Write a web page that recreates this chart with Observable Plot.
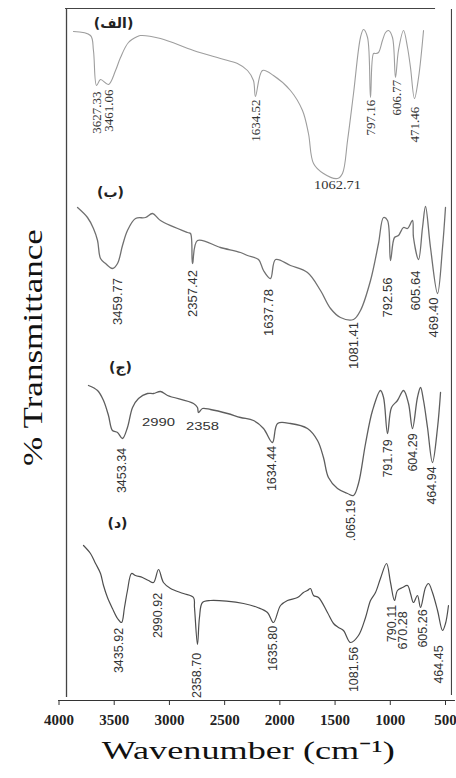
<!DOCTYPE html>
<html><head><meta charset="utf-8">
<script src="https://cdn.jsdelivr.net/npm/d3@7"></script>
<script src="https://cdn.jsdelivr.net/npm/@observablehq/plot@0.6"></script>
<style>body{margin:0;background:#fff;} #chart svg{display:block;background:#fff}</style>
</head><body><div id="chart"></div>
<script>
// X ticks (wavenumber, cm-1)
const wavenumberTicks = [4000, 3500, 3000, 2500, 2000, 1500, 1000, 500];

// Spectrum (الف) — wavenumber as placed against the shared axis, offset transmittance (a.u.)
const waveA = [3869,3715,3688,3660,3624,3552,3488,3443,3371,3289,3262,3081,2782,2538,2384,2293,2239,2221,2157,2058,1904,1795,1741,1695,1605,1478,1433,1387,1333,1270,1243,1206,1179,1152,1134,1107,1071,1043,1016,980,953,926,880,844,817,781,744,699];
const transA = [669,665,650,615,621,616,630,643,658,664,665,662,650,642,637,630,620,604,630,625,610,590,567,537,527,522,527,560,607,663,671,663,603,647,647,648,660,668,670,663,623,650,670,653,633,602,623,670];

// Spectrum (ب)
const waveB = [3832,3742,3688,3651,3624,3579,3516,3470,3425,3380,3307,3217,3153,3081,2836,2809,2791,2746,2538,2356,2293,2193,2148,2085,2039,1904,1750,1632,1541,1451,1333,1270,1179,1107,1061,1025,998,962,926,880,844,799,790,744,708,681,636,572,527,500];
const transB = [493,483,472,460,442,437,432,437,455,470,482,483,487,480,468,467,437,460,453,448,445,441,430,422,441,435,428,410,392,383,381,390,420,457,483,480,440,463,465,473,472,480,463,441,473,494,453,407,453,493];

// Spectrum (ج)
const waveC = [3733,3651,3597,3552,3516,3470,3425,3380,3334,3280,3199,3144,3081,3017,2782,2746,2737,2701,2628,2474,2356,2239,2148,2067,2021,1904,1750,1659,1605,1560,1478,1387,1333,1288,1224,1161,1089,1061,1025,989,935,880,835,799,754,726,699,663,618,572,545];
const transC = [315,310,300,285,270,268,262,273,293,302,307,307,309,305,297,293,288,292,291,287,283,280,272,258,277,277,272,260,243,223,212,207,205,217,257,290,310,303,267,293,300,310,297,272,303,313,300,273,238,273,308];

// Spectrum (د)
const waveD = [3778,3715,3669,3624,3597,3561,3516,3470,3434,3407,3380,3343,3307,3244,3190,3144,3099,3054,2990,2873,2782,2773,2746,2728,2701,2628,2329,2202,2112,2058,1994,1931,1840,1786,1750,1723,1695,1650,1569,1514,1469,1424,1360,1288,1224,1179,1134,1089,1034,998,962,935,889,844,817,790,754,726,681,654,618,572,527,500,473];
const transD = [155,147,137,127,115,103,92,82,78,93,110,127,125,123,120,118,131,118,112,107,103,93,56,83,98,100,97,93,88,78,95,100,103,108,110,112,105,103,88,77,73,70,58,65,83,100,108,122,137,118,100,110,113,115,107,98,105,93,113,117,108,90,70,77,95];

// Peak labels: text, anchor wavenumber, anchor transmittance
const labelsA = [["3627.33",3660,588],["3461.06",3552,590],["1634.52",2221,580],["797.16",1179,583],["606.77",944,603],["471.46",781,576]];
const labelsAFlat = [["1062.71",1478,515]];
const labelsB = [["3459.77",3470,399],["2357.42",2791,407],["1637.78",2103,388],["1081.41",1333,355],["792.56",1025,403],["605.64",772,410],["469.40",609,383]];
const labelsC = [["3453.34",3425,230],["1634.44",2067,232],[".065.19",1360,180],["791.79",1025,242],["604.29",790,248],["464.94",618,215]];
const labelsCFlat = [["2990",3099,278],["2358",2701,274]];
const labelsD = [["3435.92",3461,50],["2990.92",3099,85],["2358.70",2746,25],["1635.80",2058,52],["1081.56",1333,31],["790.11",980,77],["670.28",889,70],["605.26",708,72],["464.45",563,36]];

// Panel titles
const panelTitles = [["(الف)",3506,677],["(ب)",3534,508],["(ج)",3443,333],["(د)",3470,177]];

const xTitle = "Wavenumber (cm⁻¹)";
const yTitle = "% Transmittance";

const zip = (w, t) => w.map((x, i) => ({w: x, t: t[i]}));
const lab = arr => arr.map(([text, w, t]) => ({text, w, t}));

const lineOf = (w, t, stroke, sw) => Plot.line(zip(w, t), {x: "w", y: "t", stroke, strokeWidth: sw, curve: "catmull-rom"});
const rotLabels = (arr, font, size) => Plot.text(lab(arr), {x: "w", y: "t", text: "text", rotate: -90, fontSize: size, fontFamily: font, fill: "#333", textAnchor: "middle", lineAnchor: "middle"});
const flatLabels = (arr, font, size) => Plot.text(lab(arr), {x: "w", y: "t", text: "text", fontSize: size, fontFamily: font, fill: "#333", textAnchor: "middle", lineAnchor: "middle"});

const chart = Plot.plot({
  width: 456,
  height: 778,
  marginLeft: 58.5,
  marginRight: 11,
  marginTop: 8,
  marginBottom: 78,
  style: {background: "#fff", color: "#222"},
  x: {domain: [4000, 500], axis: null},
  y: {domain: [0, 692], axis: null},
  marks: [
    // frame
    Plot.ruleX([3932], {y1: 3, y2: 692, stroke: "#444", strokeWidth: 1.3}),
    Plot.ruleX([446], {y1: 5, y2: 691, stroke: "#444", strokeWidth: 1.1}),
    Plot.ruleY([692], {x1: 3941, x2: 590, stroke: "#444", strokeWidth: 1.1}),
    Plot.ruleY([0], {x1: 4004, x2: 410, stroke: "#333", strokeWidth: 1.2}),
    Plot.axisX(wavenumberTicks, {tickSize: 5, tickPadding: 9, tickFormat: d => String(d), label: null, stroke: "#333",
      fontFamily: "Liberation Serif", fontWeight: "bold", fontSize: 15, fill: "#222"}),
    // spectra
    lineOf(waveA, transA, "#9e9e9e", 1.1),
    lineOf(waveB, transB, "#707070", 1.3),
    lineOf(waveC, transC, "#5e5e5e", 1.3),
    lineOf(waveD, transD, "#4e4e4e", 1.2),
    // peak labels
    rotLabels(labelsA, "Liberation Serif", 13),
    flatLabels(labelsAFlat, "Liberation Serif", 12),
    rotLabels(labelsB, "Liberation Sans", 13),
    rotLabels(labelsC, "Liberation Sans", 12.5),
    flatLabels(labelsCFlat, "Liberation Sans", 11),
    rotLabels(labelsD, "Liberation Sans", 12.5),
    // panel titles
    Plot.text(lab(panelTitles), {x: "w", y: "t", text: "text", fontSize: 14, fontWeight: "bold", fontFamily: "DejaVu Sans", fill: "#222", textAnchor: "middle", lineAnchor: "middle"}),
    // axis titles
    Plot.text([xTitle], {frameAnchor: "bottom", dy: 50, dx: -4, fontSize: 26, fontFamily: "Liberation Serif", fill: "#111", textAnchor: "middle", lineAnchor: "middle"}),
    Plot.text([yTitle], {frameAnchor: "left", dx: -25.5, dy: -7, rotate: -90, fontSize: 33, fontFamily: "Liberation Serif", fill: "#111", textAnchor: "middle", lineAnchor: "middle"})
  ]
});

document.getElementById("chart").appendChild(chart);

// typographic adjustments: the reference lettering is widened horizontally
const svg = d3.select(chart);
const tickSet = new Set(wavenumberTicks.map(String));
function stretch(node, sx, sy) {
  const parent = node.parentNode;
  const r = node.getBoundingClientRect();
  const s = chart.getBoundingClientRect();
  const ctm = parent.getCTM();
  const cx = r.x - s.x + r.width / 2 - (ctm ? ctm.e : 0);
  const cy = r.y - s.y + r.height / 2 - (ctm ? ctm.f : 0);
  const g = document.createElementNS("http://www.w3.org/2000/svg", "g");
  g.setAttribute("transform", `translate(${cx},${cy}) scale(${sx},${sy}) translate(${-cx},${-cy})`);
  parent.insertBefore(g, node);
  g.appendChild(node);
}
const toStretch = [];
svg.selectAll("text").each(function() {
  const t = this.textContent;
  if (tickSet.has(t)) {
    d3.select(this)
      .style("font-family", "'Liberation Serif', 'Times New Roman', serif")
      .style("font-weight", "bold").style("font-size", "15px").style("fill", "#222");
  }
  const r = this.getBoundingClientRect();
  if (t === xTitle) toStretch.push([this, 293 / r.width, 1]);
  if (t === "2990" || t === "2358") toStretch.push([this, 33 / r.width, 1]);
  if (t === "1062.71") toStretch.push([this, 47 / r.width, 1]);
  if (t === yTitle) toStretch.push([this, 30 / r.width, 237 / r.height]);
});
toStretch.forEach(([n, sx, sy]) => stretch(n, sx, sy));
</script></body></html>
